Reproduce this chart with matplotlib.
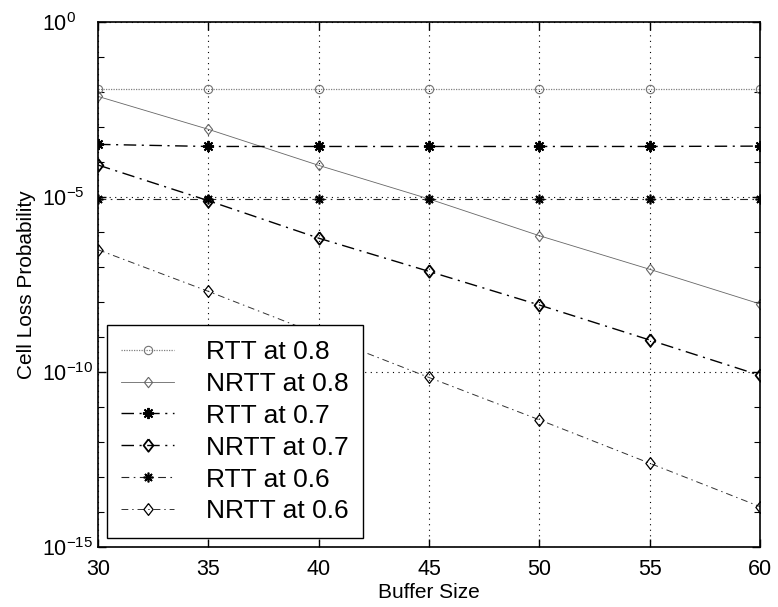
import matplotlib
matplotlib.use("Agg")
import matplotlib.pyplot as plt
from matplotlib.path import Path
import numpy as np

plt.rcParams['font.family'] = ['Liberation Sans', 'DejaVu Sans']
plt.rcParams['mathtext.fontset'] = 'custom'
plt.rcParams['mathtext.rm'] = 'Liberation Sans'

buffer_size = [30, 35, 40, 45, 50, 55, 60]

# log10 of cell loss probability
rtt_08 = [-1.92, -1.92, -1.92, -1.92, -1.92, -1.92, -1.92]
nrtt_08 = [-2.13, -3.07, -4.10, -5.06, -6.11, -7.07, -8.06]
rtt_07 = [-3.50, -3.56, -3.56, -3.56, -3.56, -3.56, -3.55]
nrtt_07 = [-4.09, -5.11, -6.18, -7.13, -8.09, -9.09, -10.10]
rtt_06 = [-5.05, -5.05, -5.05, -5.05, -5.05, -5.05, -5.05]
nrtt_06 = [-6.51, -7.70, -8.93, -10.16, -11.37, -12.61, -13.85]

labels = ['RTT at 0.8', 'NRTT at 0.8', 'RTT at 0.7',
          'NRTT at 0.7', 'RTT at 0.6', 'NRTT at 0.6']

fig = plt.figure(figsize=(7.78, 6.07), dpi=100)
ax = fig.add_axes([0.126, 0.099, 0.851, 0.865])

x = np.array(buffer_size)
star = (8, 2, 0)
diamond = Path([(0, 1), (0.78, 0), (0, -1), (-0.78, 0), (0, 1)])
dd = (0, (9, 4, 1.5, 4))
ax.plot(x, 10.0 ** np.array(rtt_08), color='0.5', ls=(0, (1, 1)), lw=0.9,
        marker='o', ms=6, mfc='none', mec='0.45', mew=0.8, label=labels[0])
ax.plot(x, 10.0 ** np.array(nrtt_08), color='0.4', ls='-', lw=0.6,
        marker=diamond, ms=7.5, mfc='none', mec='0.4', mew=0.8, label=labels[1])
ax.plot(x, 10.0 ** np.array(rtt_07), color='k', ls=dd, lw=1.0,
        marker=star, ms=8, mec='k', mew=1.4, label=labels[2])
ax.plot(x, 10.0 ** np.array(nrtt_07), color='k', ls=dd, lw=1.0,
        marker=diamond, ms=9, mfc='none', mec='k', mew=1.3, label=labels[3])
ax.plot(x, 10.0 ** np.array(rtt_06), color='0.15', ls=(0, (7, 4, 1.5, 4)), lw=0.8,
        marker=star, ms=7, mec='k', mew=1.2, label=labels[4])
ax.plot(x, 10.0 ** np.array(nrtt_06), color='0.2', ls=(0, (7, 4, 1.5, 4)), lw=0.7,
        marker=diamond, ms=8.5, mfc='none', mec='k', mew=0.9, label=labels[5])

ax.set_yscale('log')
ax.set_xlim(30, 60)
ax.set_ylim(1e-15, 1e0)
ax.set_xticks(buffer_size)
ax.set_yticks([1e0, 1e-5, 1e-10, 1e-15])
ax.set_yticklabels(['$10^{0}$', '$10^{-5}$', '$10^{-10}$', '$10^{-15}$'])
ax.yaxis.set_minor_locator(matplotlib.ticker.FixedLocator(10.0 ** np.arange(-15, 1)))
ax.yaxis.set_minor_formatter(matplotlib.ticker.NullFormatter())
ax.tick_params(which='both', direction='in', top=True, right=True, labelsize=15.5)
ax.tick_params(which='major', length=6, width=1)
ax.tick_params(which='minor', length=4, width=0.8)
ax.tick_params(axis='x', pad=9)
ax.tick_params(axis='y', pad=40)
for lab in ax.get_yticklabels():
    lab.set_ha('left')
ax.grid(True, which='major', ls=(0, (1, 4)), color='k', lw=0.8)
for s in ax.spines.values():
    s.set_linewidth(1.2)

ax.set_xlabel('Buffer Size', fontsize=15, labelpad=2)
ax.set_ylabel('Cell Loss Probability', fontsize=15, labelpad=5)

leg = ax.legend(loc='lower left', bbox_to_anchor=(0.013, 0.017), fontsize=19,
                frameon=True, fancybox=False, edgecolor='k', framealpha=1,
                handlelength=2.0, handletextpad=1.2, labelspacing=0.3,
                borderaxespad=0, borderpad=0.55)
leg.get_frame().set_linewidth(1.0)

fig.savefig('out.png', dpi=100)
